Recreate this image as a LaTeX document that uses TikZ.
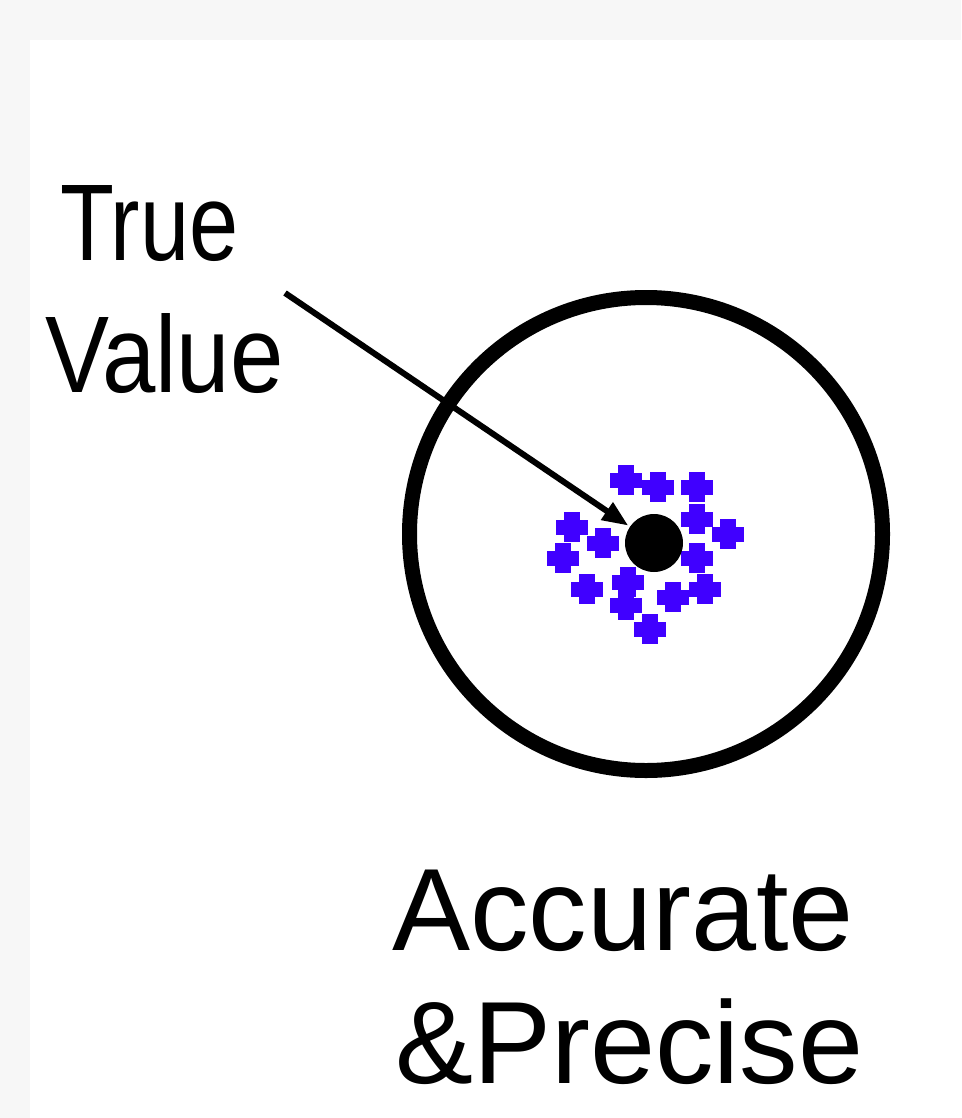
\documentclass[tikz,border=0pt]{standalone}
\usepackage{fontspec}
\setmainfont{Liberation Sans}
\usetikzlibrary{arrows.meta}
\definecolor{bgray}{RGB}{247,247,247}
\definecolor{dotblue}{RGB}{64,0,255}
\tikzset{
  bigtext/.style={anchor=base west, inner sep=0pt, font=\fontsize{117}{117}\selectfont},
  smalltext/.style={anchor=base west, inner sep=0pt, font=\fontsize{109}{109}\selectfont},
  target/.style={circle, draw=black, line width=15pt, minimum size=473pt, inner sep=0pt},
  truedot/.style={circle, fill=black, minimum size=58pt, inner sep=0pt, outer sep=2pt},
  pointer/.style={line width=6pt, -{Triangle[length=26pt,width=20pt]}},
}
\begin{document}
\begin{tikzpicture}[x=1pt,y=-1pt]
\useasboundingbox (0,0) rectangle (961,1118);
\fill[bgray] (0,0) rectangle (961,1118);
\fill[white] (30,40) rectangle (961,1118);
% target circle
\node[target] (ring) at (646,534) {};
% blue shots
\foreach \cx/\cy in {626/480,658/487,697/487,697/519,728/534,572/527,603/543,563/558,697/558,587/589,628/582,626/605,673/597,705/589,650/629}{
  \fill[dotblue] (\cx-16,\cy-7.5) rectangle (\cx+16,\cy+7.5);
  \fill[dotblue] (\cx-8,\cy-15) rectangle (\cx+8,\cy+15);
}
% true value dot
\node[truedot] (tv) at (654,543) {};
% labels
\node[smalltext] (lbltrue) at (60,260) {\scalebox{0.81}[1]{True}};
\node[smalltext] (lblvalue) at (45,392) {\scalebox{0.88}[1]{Value}};
\coordinate (start) at (285,293);
\draw[pointer] (start) -- (tv);
\node[bigtext] (acc) at (392,950) {Accurate};
\node[bigtext] (prec) at (395,1083) {\&Precise};
\end{tikzpicture}
\end{document}
